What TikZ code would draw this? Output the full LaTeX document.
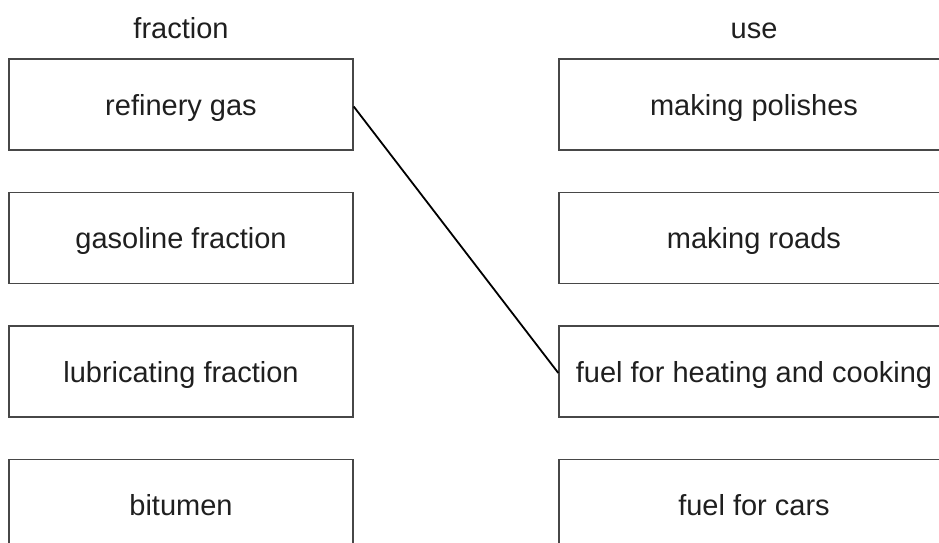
\documentclass[tikz,border=0pt]{standalone}
\usepackage{fontspec}
\setmainfont{Liberation Sans}
\begin{document}
\begin{tikzpicture}[x=1pt,y=-1pt,
  box/.style={draw=black!72, line width=1.4pt, minimum height=91pt, inner sep=0pt, text height=25pt, text depth=4pt, text=black!88, font=\fontsize{29}{34}\selectfont},
  lbox/.style={box, minimum width=344pt},
  rbox/.style={box, minimum width=390pt},
  head/.style={text=black!88, font=\fontsize{29}{34}\selectfont, anchor=base, inner sep=0pt},
  link/.style={draw=black, line width=1.8pt}]
\clip (0,0) rectangle (939,543);
\node[head] (h1) at (181,38) {fraction};
\node[head] (h2) at (754,38) {use};
\node[lbox] (a1) at (181,104.5) {refinery gas};
\node[lbox] (a2) at (181,238) {gasoline fraction};
\node[lbox] (a3) at (181,371.5) {lubricating fraction};
\node[lbox] (a4) at (181,505) {bitumen};
\node[rbox] (b1) at (754,104.5) {making polishes};
\node[rbox] (b2) at (754,238) {making roads};
\node[rbox] (b3) at (754,371.5) {fuel for heating and cooking};
\node[rbox] (b4) at (754,505) {fuel for cars};
\draw[link] ([yshift=-2pt]a1.east) -- ([yshift=-1.5pt]b3.west);
\end{tikzpicture}
\end{document}
